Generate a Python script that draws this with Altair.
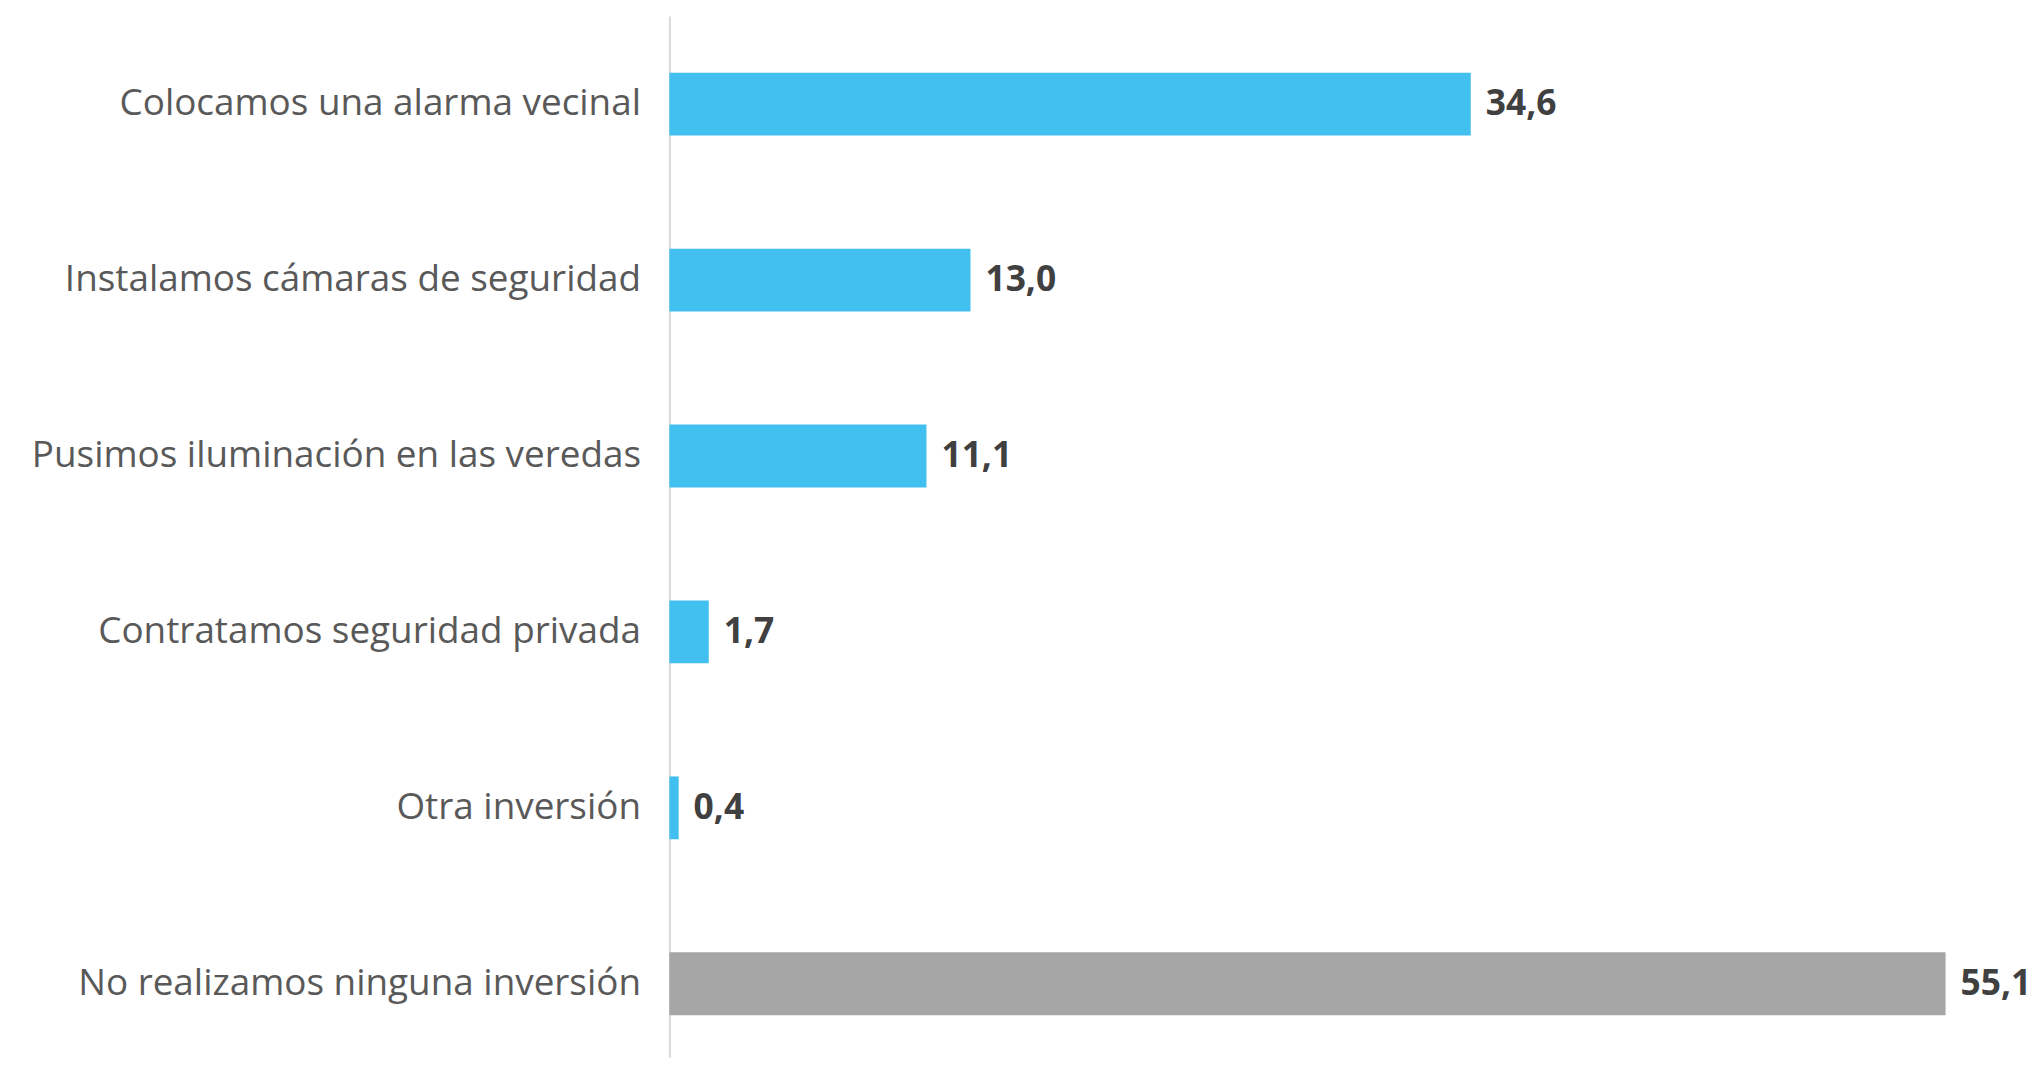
import altair as alt
import pandas as pd

categories = [
    "Colocamos una alarma vecinal",
    "Instalamos cámaras de seguridad",
    "Pusimos iluminación en las veredas",
    "Contratamos seguridad privada",
    "Otra inversión",
    "No realizamos ninguna inversión",
]
values = [34.6, 13.0, 11.1, 1.7, 0.4, 55.1]
groups = ["inv", "inv", "inv", "inv", "inv", "none"]

df = pd.DataFrame({
    "cat": categories,
    "val": values,
    "grp": groups,
    "lbl": [f"{v:.1f}".replace(".", ",") for v in values],
})

FONT = "Open Sans"

y = alt.Y(
    "cat:N",
    sort=categories,
    title=None,
    scale=alt.Scale(paddingInner=0.643, paddingOuter=0.28, align=0.576),
    axis=alt.Axis(
        domain=True, domainColor="#d9d9d9", domainWidth=2,
        ticks=False, labelPadding=29, labelFontSize=37, labelFont=FONT,
        labelColor="#595959", labelLimit=1000, grid=False,
    ),
)
x = alt.X("val:Q", title=None, scale=alt.Scale(domain=[0, 57.8], nice=False),
          axis=None)

bars = alt.Chart(df).mark_bar().encode(
    x=x, y=y,
    color=alt.Color("grp:N", scale=alt.Scale(domain=["inv", "none"],
                                             range=["#41BFEF", "#A6A6A6"]),
                    legend=None),
)
text = alt.Chart(df).mark_text(
    align="left", baseline="middle", dx=15, font=FONT, fontWeight="bold",
    fontSize=35.5, color="#404040",
).encode(x=x, y=y, text="lbl:N")

chart = (bars + text).properties(
    width=1344, height=1045,
    autosize=alt.AutoSizeParams(type="none"),
    padding={"left": 664, "right": 23, "top": 6, "bottom": 0},
).configure_view(stroke=None)

chart.save("out.html", embed_options={"renderer": "svg", "actions": False})
